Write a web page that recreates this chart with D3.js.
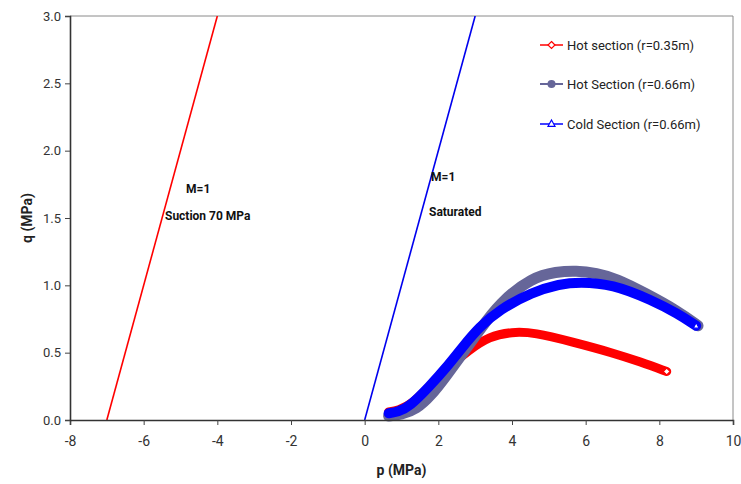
<!DOCTYPE html>
<html>
<head>
<meta charset="utf-8">
<script src="https://cdn.jsdelivr.net/npm/d3@7"></script>
<style>
  body { margin: 0; background: #fff; }
  svg { display: block; }
  text { font-family: "Roboto", "DejaVu Sans Condensed", sans-serif; }
</style>
</head>
<body>
<svg id="chart" width="741" height="484"></svg>
<script>
// Stress paths in p–q space (MPa)
const hotSmallP = [0.65, 0.9, 1.3, 1.8, 2.3, 2.84, 3.38, 4.0, 4.6, 5.64, 6.72, 7.5, 8.2];
const hotSmallQ = [0.06, 0.07, 0.12, 0.26, 0.40, 0.52, 0.62, 0.655, 0.65, 0.58, 0.50, 0.43, 0.36];

const hotLargeP = [0.65, 1.0, 1.4, 1.8, 2.22, 2.65, 3.1, 3.66, 4.55, 5.2, 5.74, 6.3, 6.83, 7.6, 8.5, 9.05];
const hotLargeQ = [0.03, 0.04, 0.08, 0.18, 0.33, 0.49, 0.66, 0.87, 1.06, 1.10, 1.11, 1.09, 1.05, 0.945, 0.81, 0.70];

const coldP = [0.65, 0.9, 1.22, 1.76, 2.22, 2.65, 3.11, 3.66, 4.55, 5.3, 5.82, 6.72, 7.8, 8.5, 9.0];
const coldQ = [0.05, 0.06, 0.10, 0.25, 0.39, 0.54, 0.69, 0.82, 0.95, 1.01, 1.025, 1.01, 0.89, 0.79, 0.70];

// Critical state lines, M = 1
const suctionLineP = [-7, -4];
const suctionLineQ = [0, 3];
const saturatedLineP = [0, 3];
const saturatedLineQ = [0, 3];

const xTicks = [-8, -6, -4, -2, 0, 2, 4, 6, 8, 10];
const yTicks = [0, 0.5, 1.0, 1.5, 2.0, 2.5, 3.0];

const seriesNames = ["Hot section (r=0.35m)", "Hot Section (r=0.66m)", "Cold Section (r=0.66m)"];

const svg = d3.select("#chart");
const W = 741, H = 484;
const margin = { left: 70, right: W - 733, top: 16, bottom: H - 420 };

const x = d3.scaleLinear().domain([-8, 10]).range([margin.left, W - margin.right]);
const y = d3.scaleLinear().domain([0, 3]).range([H - margin.bottom, margin.top]);

const zip = (a, b) => a.map((v, i) => [v, b[i]]);

// plot frame (top and right)
svg.append("line").attr("x1", x(-8)).attr("x2", x(10)).attr("y1", y(3)).attr("y2", y(3))
  .attr("stroke", "#8a8a8a").attr("stroke-width", 1);
svg.append("line").attr("x1", x(10)).attr("x2", x(10)).attr("y1", y(3)).attr("y2", y(0))
  .attr("stroke", "#8a8a8a").attr("stroke-width", 1);

svg.append("clipPath").attr("id", "plotclip").append("rect")
  .attr("x", x(-8)).attr("y", y(3)).attr("width", x(10) - x(-8)).attr("height", y(0) - y(3));
const g = svg.append("g");

const straight = d3.line().x(d => x(d[0])).y(d => y(d[1]));
const smooth = d3.line().x(d => x(d[0])).y(d => y(d[1])).curve(d3.curveBasis);

g.append("path").attr("d", straight(zip(suctionLineP, suctionLineQ)))
  .attr("fill", "none").attr("stroke", "#ff0000").attr("stroke-width", 1.6)
  .attr("clip-path", "url(#plotclip)");
g.append("path").attr("d", straight(zip(saturatedLineP, saturatedLineQ)))
  .attr("fill", "none").attr("stroke", "#0000ee").attr("stroke-width", 1.6)
  .attr("clip-path", "url(#plotclip)");

// dense marker bands drawn as thick strokes
const bands = [
  { p: hotSmallP, q: hotSmallQ, color: "#ff0000", w: 9 },
  { p: hotLargeP, q: hotLargeQ, color: "#666699", w: 11 },
  { p: coldP, q: coldQ, color: "#0000ff", w: 10 }
];
bands.forEach(b => {
  g.append("path").attr("d", smooth(zip(b.p, b.q)))
    .attr("fill", "none").attr("stroke", b.color).attr("stroke-width", b.w)
    .attr("stroke-linecap", "round").attr("stroke-linejoin", "round");
});

// end markers
function diamond(sel, cx, cy, r) {
  sel.append("path").attr("d", `M${cx},${cy - r}L${cx + r},${cy}L${cx},${cy + r}L${cx - r},${cy}Z`)
    .attr("fill", "#fff").attr("stroke", "#ff0000").attr("stroke-width", 1.2);
}
function triangle(sel, cx, cy, r) {
  sel.append("path").attr("d", `M${cx},${cy - r}L${cx + r},${cy + r * 0.8}L${cx - r},${cy + r * 0.8}Z`)
    .attr("fill", "#fff").attr("stroke", "#0000ff").attr("stroke-width", 1.2);
}
diamond(g, x(hotSmallP[hotSmallP.length - 1]), y(hotSmallQ[hotSmallQ.length - 1]), 3.5);
triangle(g, x(coldP[coldP.length - 1]), y(coldQ[coldQ.length - 1]), 3);

// axes
const xAxis = d3.axisBottom(x).tickValues(xTicks).tickSize(5).tickPadding(11).tickFormat(d => String(d));
const yAxis = d3.axisLeft(y).tickValues(yTicks).tickSize(5).tickPadding(4).tickFormat(d3.format(".1f"));

const gx = svg.append("g").attr("transform", `translate(0,${y(0)})`).call(xAxis);
const gy = svg.append("g").attr("transform", `translate(${x(-8)},0)`).call(yAxis);
[gx, gy].forEach(a => {
  a.select(".domain").attr("stroke", "#333").attr("stroke-width", 1.6);
  a.selectAll(".tick line").attr("stroke", "#444").attr("stroke-width", 1);
  a.selectAll(".tick text").attr("fill", "#333").style("font-size", "13px");
});
gx.selectAll(".tick text").style("font-size", "14px");

// axis titles
svg.append("text").attr("x", (x(-8) + x(10)) / 2).attr("y", 475).attr("text-anchor", "middle")
  .style("font-size", "14px").style("font-weight", "bold").attr("fill", "#222").text("p (MPa)");
svg.append("text").attr("transform", `translate(32,${(y(0) + y(3)) / 2}) rotate(-90)`)
  .attr("text-anchor", "middle").style("font-size", "14px").style("font-weight", "bold")
  .attr("fill", "#222").text("q (MPa)");

// line annotations
const ann = [
  { t: "M=1", x: 186, y: 193 },
  { t: "Suction 70 MPa", x: 165, y: 220 },
  { t: "M=1", x: 431, y: 181 },
  { t: "Saturated", x: 429, y: 216 }
];
ann.forEach(a => svg.append("text").attr("x", a.x).attr("y", a.y)
  .style("font-size", "12px").style("font-weight", "bold").attr("fill", "#111").text(a.t));

// legend
const leg = svg.append("g");
const legY = [45, 84, 124];
const legColors = ["#ff0000", "#666699", "#0000ff"];
seriesNames.forEach((name, i) => {
  leg.append("line").attr("x1", 540).attr("x2", 563).attr("y1", legY[i]).attr("y2", legY[i])
    .attr("stroke", legColors[i]).attr("stroke-width", i === 1 ? 2 : 1.5);
  if (i === 0) diamond(leg, 551.5, legY[i], 3.5);
  if (i === 1) leg.append("circle").attr("cx", 551.5).attr("cy", legY[i]).attr("r", 4).attr("fill", "#666699");
  if (i === 2) triangle(leg, 551.5, legY[i] - 0.5, 3.5);
  leg.append("text").attr("x", 567).attr("y", legY[i] + 4.5)
    .style("font-size", "13px").attr("fill", "#222").text(name);
});
</script>
</body>
</html>
